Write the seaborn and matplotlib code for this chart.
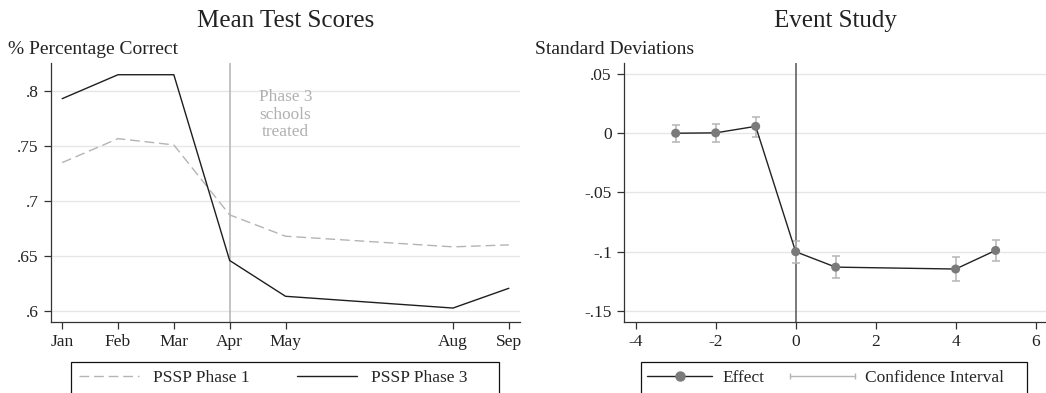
import numpy as np
import pandas as pd
import matplotlib
matplotlib.use("Agg")
import matplotlib.pyplot as plt
import seaborn as sns
from matplotlib.lines import Line2D
from matplotlib.patches import Rectangle
from matplotlib.legend_handler import HandlerLine2D

# ---------------- data ----------------
months = ["Jan", "Feb", "Mar", "Apr", "May", "Aug", "Sep"]
month_pos = [1, 2, 3, 4, 5, 8, 9]
phase1 = [0.7351, 0.7569, 0.7512, 0.6875, 0.6681, 0.6584, 0.6602]
phase3 = [0.7933, 0.8151, 0.8151, 0.6460, 0.6134, 0.6027, 0.6207]
left_yticks = [0.6, 0.65, 0.7, 0.75, 0.8]
left_yticklabels = [".6", ".65", ".7", ".75", ".8"]

event_time = [-3, -2, -1, 0, 1, 4, 5]
effect = [0.0, 0.0003, 0.0058, -0.1000, -0.1130, -0.1146, -0.0989]
ci_low = [-0.0070, -0.0076, -0.0031, -0.1093, -0.1220, -0.1248, -0.1079]
ci_high = [0.0068, 0.0082, 0.0141, -0.0910, -0.1037, -0.1042, -0.0899]
right_yticks = [-0.15, -0.1, -0.05, 0, 0.05]
right_yticklabels = ["-.15", "-.1", "-.05", "0", ".05"]
right_xticks = [-4, -2, 0, 2, 4, 6]
right_xticklabels = ["-4", "-2", "0", "2", "4", "6"]

# ---------------- style ----------------
sns.set_theme(style="white")
plt.rcParams["font.family"] = ["Liberation Serif", "DejaVu Serif"]

W, H = 1046, 393
fig = plt.figure(figsize=(W / 100, H / 100), dpi=100)

def fx(px):
    return px / W

def fy(py):
    return 1 - py / H

ax1 = fig.add_axes([fx(51), fy(322), (520 - 51) / W, (322 - 63.3) / H])
ax2 = fig.add_axes([fx(624.3), fy(322), (1046 - 624.3) / W, (322 - 63.3) / H])

DARK = "#1e1e1e"
SPINE = "#333333"
GRID = "#e6e6e6"
LIGHT = "#b3b3b3"

for ax in (ax1, ax2):
    sns.despine(ax=ax, top=True, right=True)
    for s in ("left", "bottom"):
        ax.spines[s].set_color(SPINE)
        ax.spines[s].set_linewidth(0.9)
    ax.yaxis.grid(True, color=GRID, lw=1.0)
    ax.xaxis.grid(False)
    ax.set_axisbelow(True)
    ax.tick_params(axis="both", bottom=True, left=True, length=5, width=0.9,
                   color=SPINE, labelsize=12.5, labelcolor="#222222", pad=4)
    ax.set_xlabel("")
    ax.set_ylabel("")

# ---------------- left panel ----------------
ax1.axvline(4, color=LIGHT, lw=1.1, zorder=1.5)
sns.lineplot(x=month_pos, y=phase1, ax=ax1, color="#b4b4b4", lw=1.0,
             linestyle=(0, (7, 3.5)), zorder=2)
sns.lineplot(x=month_pos, y=phase3, ax=ax1, color=DARK, lw=1.0, zorder=3)
ax1.set_xlim(0.8, 9.2)
ax1.set_ylim(0.590, 0.8255)
ax1.set_xticks(month_pos)
ax1.set_xticklabels(months)
ax1.set_yticks(left_yticks)
ax1.set_yticklabels(left_yticklabels)
ax1.text(5, 0.7785, "Phase 3\nschools\ntreated", ha="center", va="center",
         fontsize=12.4, color="#b0b0b0", linespacing=1.13)

# ---------------- right panel ----------------
ax2.axvline(0, color="#555555", lw=1.1, zorder=1.5)
eff = np.array(effect)
yerr = [eff - np.array(ci_low), np.array(ci_high) - eff]
ax2.errorbar(event_time, effect, yerr=yerr, fmt="none", ecolor="#b5b5b5",
             elinewidth=1.1, capsize=3, capthick=1.1, zorder=2)
sns.lineplot(x=event_time, y=effect, ax=ax2, color="#222222", lw=1.0, zorder=3)
sns.scatterplot(x=event_time, y=effect, ax=ax2, color="#7a7a7a", s=6.5 ** 2,
                edgecolor="none", zorder=4)
ax2.set_xlim(-4.285, 6.26)
ax2.set_ylim(-0.1593, 0.059)
ax2.set_xticks(right_xticks)
ax2.set_xticklabels(right_xticklabels)
ax2.set_yticks(right_yticks)
ax2.set_yticklabels(right_yticklabels)

# ---------------- titles / axis labels ----------------
fig.text(fx(285.5), fy(27), "Mean Test Scores", ha="center", va="baseline",
         fontsize=18, color="#222222")
fig.text(fx(835), fy(27), "Event Study", ha="center", va="baseline",
         fontsize=18, color="#222222")
fig.text(fx(8.5), fy(54), "% Percentage Correct", ha="left", va="baseline",
         fontsize=14, color="#222222")
fig.text(fx(535), fy(54), "Standard Deviations", ha="left", va="baseline",
         fontsize=14, color="#222222")

# ---------------- legends ----------------
fig.patches.append(Rectangle((fx(71.3), fy(420)), (499.3 - 71.3) / W,
                             (420 - 362.3) / H, transform=fig.transFigure,
                             fill=False, ec="#111111", lw=0.9))
fig.patches.append(Rectangle((fx(640.7), fy(420)), (1027.3 - 640.7) / W,
                             (420 - 362.3) / H, transform=fig.transFigure,
                             fill=False, ec="#111111", lw=0.9))

h1 = Line2D([], [], color="#b4b4b4", lw=1.0, linestyle=(0, (7, 3.5)))
h3 = Line2D([], [], color=DARK, lw=1.0)
fig.legend([h1, h3], ["PSSP Phase 1", "PSSP Phase 3"], loc="center left",
           bbox_to_anchor=(fx(78.7), fy(378)), ncol=2, frameon=False,
           fontsize=12.5, handlelength=3.46, handletextpad=0.82,
           columnspacing=2.7, borderpad=0, borderaxespad=0)

he = Line2D([], [], color="#222222", lw=1.0, marker="o", markersize=6.5,
            markerfacecolor="#7a7a7a", markeredgecolor="#7a7a7a")
hc = Line2D([], [], color="#b5b5b5", lw=1.0, marker="|", markersize=5,
            markeredgewidth=1.0)
fig.legend([he, hc], ["Effect", "Confidence Interval"], loc="center left",
           bbox_to_anchor=(fx(647.3), fy(378)), ncol=2, frameon=False,
           fontsize=12.5, handlelength=3.74, handletextpad=0.58,
           columnspacing=1.5, borderpad=0, borderaxespad=0, numpoints=1,
           handler_map={hc: HandlerLine2D(numpoints=2, marker_pad=0)})

fig.savefig("out.png", dpi=100)
